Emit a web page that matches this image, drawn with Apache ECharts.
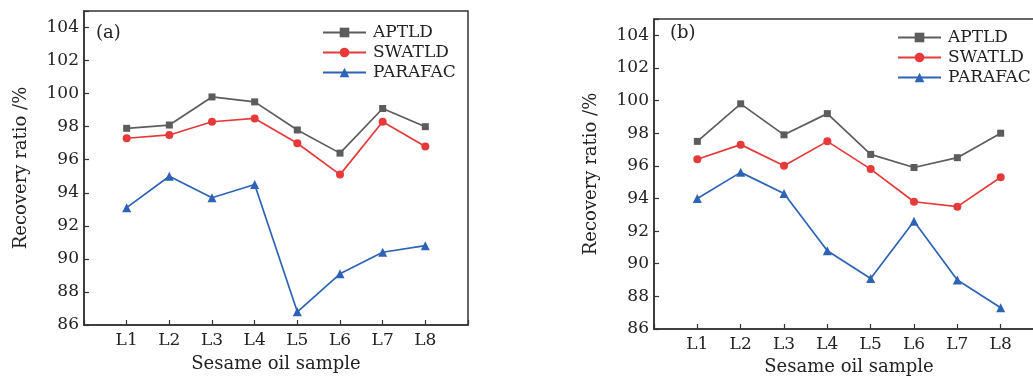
<!DOCTYPE html>
<html>
<head>
<meta charset="utf-8">
<script src="https://cdn.jsdelivr.net/npm/echarts@6/dist/echarts.min.js"></script>
<style>
  html, body { margin: 0; padding: 0; background: #fff; }
  #chart { width: 1033px; height: 376px; }
</style>
</head>
<body>
<div id="chart"></div>
<script>
// samples L1..L8
const samples = ["L1", "L2", "L3", "L4", "L5", "L6", "L7", "L8"];

// panel (a)
const aptldA = [97.9, 98.1, 99.8, 99.5, 97.8, 96.4, 99.1, 98.0];
const swatldA = [97.3, 97.5, 98.3, 98.5, 97.0, 95.1, 98.3, 96.8];
const parafacA = [93.1, 95.0, 93.7, 94.5, 86.8, 89.1, 90.4, 90.8];

// panel (b)
const aptldB = [97.5, 99.8, 97.9, 99.2, 96.7, 95.9, 96.5, 98.0];
const swatldB = [96.4, 97.3, 96.0, 97.5, 95.8, 93.8, 93.5, 95.3];
const parafacB = [94.0, 95.6, 94.3, 90.8, 89.1, 92.6, 89.0, 87.3];

const FONT = "DejaVu Serif";
const AXIS_COLOR = "#333";

const styles = {
  APTLD: { color: "#5c5c5c", symbol: "rect", size: 7 },
  SWATLD: { color: "#e63a3a", symbol: "circle", size: 8 },
  PARAFAC: { color: "#2d63b6", symbol: "triangle", size: 9 },
};

// sample index 1..8 on a 0..9 value axis
const pairs = (vals) => vals.map((v, i) => [i + 1, v]);

function makeSeries(name, vals, idx) {
  const s = styles[name];
  return {
    name: name,
    type: "line",
    xAxisIndex: idx,
    yAxisIndex: idx,
    data: pairs(vals),
    symbol: s.symbol,
    symbolSize: s.size,
    lineStyle: { color: s.color, width: 1.7 },
    itemStyle: { color: s.color },
    animation: false,
  };
}

function xAxis(idx) {
  return {
    gridIndex: idx,
    type: "value",
    min: 0,
    max: 9,
    interval: 1,
    name: "Sesame oil sample",
    nameLocation: "middle",
    nameGap: idx === 0 ? 30 : 28,
    nameTextStyle: { fontFamily: FONT, fontSize: 18, color: "#222" },
    axisLine: { lineStyle: { color: AXIS_COLOR, width: 1.5 } },
    axisTick: { inside: true, length: 5, lineStyle: { color: AXIS_COLOR, width: 1.2 } },
    axisLabel: {
      fontFamily: FONT,
      fontSize: 17,
      color: "#222",
      margin: 7,
      formatter: (v) => (v >= 1 && v <= 8 ? samples[v - 1] : ""),
    },
    splitLine: { show: false },
  };
}

function yAxis(idx) {
  return {
    gridIndex: idx,
    type: "value",
    min: 86,
    max: 105,
    interval: 2,
    name: "Recovery ratio /%",
    nameLocation: "middle",
    nameGap: 54,
    nameTextStyle: { fontFamily: FONT, fontSize: 18, color: "#222" },
    axisLine: { show: true, lineStyle: { color: AXIS_COLOR, width: 1.5 } },
    axisTick: { inside: true, length: 5, lineStyle: { color: AXIS_COLOR, width: 1.2 } },
    axisLabel: {
      fontFamily: FONT,
      fontSize: 17,
      color: "#222",
      margin: 5,
      formatter: (v) => (v <= 104 ? String(v) : ""),
    },
    splitLine: { show: false },
  };
}

function legend(left, top) {
  return {
    orient: "vertical",
    left: left,
    top: top,
    padding: 0,
    itemWidth: 43,
    itemHeight: 12,
    itemGap: 3,
    textStyle: { fontFamily: FONT, fontSize: 17, color: "#222", padding: [0, 0, 0, 2] },
    data: ["APTLD", "SWATLD", "PARAFAC"],
  };
}

const option = {
  backgroundColor: "#fff",
  animation: false,
  grid: [
    { left: 84, top: 11, width: 384, height: 314, show: true, borderColor: AXIS_COLOR, borderWidth: 1.5, outerBoundsMode: "none" },
    { left: 654, top: 19, width: 390, height: 310, show: true, borderColor: AXIS_COLOR, borderWidth: 1.5, outerBoundsMode: "none" },
  ],
  xAxis: [xAxis(0), xAxis(1)],
  yAxis: [yAxis(0), yAxis(1)],
  legend: [legend(322, 24), legend(897, 29)],
  graphic: [
    { type: "text", left: 96, top: 24, style: { text: "(a)", font: "18px '" + FONT + "'", fill: "#222" } },
    { type: "text", left: 670, top: 24, style: { text: "(b)", font: "18px '" + FONT + "'", fill: "#222" } },
  ],
  series: [
    makeSeries("APTLD", aptldA, 0),
    makeSeries("SWATLD", swatldA, 0),
    makeSeries("PARAFAC", parafacA, 0),
    makeSeries("APTLD", aptldB, 1),
    makeSeries("SWATLD", swatldB, 1),
    makeSeries("PARAFAC", parafacB, 1),
  ],
};

const chart = echarts.init(document.getElementById("chart"), null, { renderer: "canvas" });
chart.setOption(option);
</script>
</body>
</html>
